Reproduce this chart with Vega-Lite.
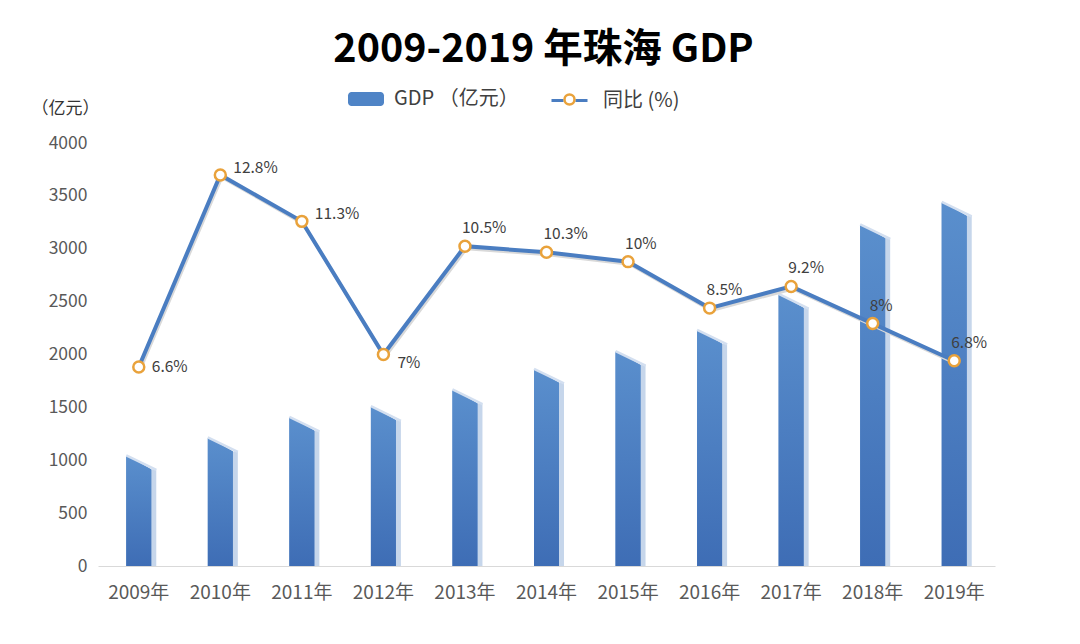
{
  "$schema": "https://vega.github.io/schema/vega-lite/v6.json",
  "autosize": {"type": "none"},
  "width": 897,
  "height": 423,
  "padding": {"left": 98, "top": 143, "right": 85, "bottom": 78},
  "background": "white",
  "config": {
    "view": {"stroke": null},
    "font": "Noto Sans CJK SC",
    "text": {"font": "Noto Sans CJK SC"}
  },
  "title": {
    "text": "2009-2019 年珠海 GDP",
    "fontSize": 39.5,
    "fontWeight": "bold",
    "color": "#000000",
    "font": "Noto Sans CJK SC",
    "anchor": "middle",
    "dx": -3,
    "dy": -7
  },
  "data": {
    "values": [
      {"year": "2009年", "gdp": 1038.7, "rate": 0.066},
      {"year": "2010年", "gdp": 1208.6, "rate": 0.128},
      {"year": "2011年", "gdp": 1403.2, "rate": 0.113},
      {"year": "2012年", "gdp": 1503.8, "rate": 0.07},
      {"year": "2013年", "gdp": 1662.4, "rate": 0.105},
      {"year": "2014年", "gdp": 1857.3, "rate": 0.103},
      {"year": "2015年", "gdp": 2025.4, "rate": 0.10},
      {"year": "2016年", "gdp": 2226.4, "rate": 0.085},
      {"year": "2017年", "gdp": 2564.7, "rate": 0.092},
      {"year": "2018年", "gdp": 3224.0, "rate": 0.08},
      {"year": "2019年", "gdp": 3435.9, "rate": 0.068}
    ]
  },
  "encoding": {
    "x": {
      "field": "year",
      "type": "nominal",
      "sort": null,
      "scale": {"paddingInner": 0, "paddingOuter": 0},
      "axis": {
        "title": null,
        "labelAngle": 0,
        "labelFontSize": 19,
        "labelColor": "#595959",
        "labelPadding": 17,
        "ticks": false,
        "domainColor": "#d9d9d9",
        "domainWidth": 1.2,
        "grid": false
      }
    }
  },
  "layer": [
    {
      "encoding": {
        "y": {
          "field": "gdp",
          "type": "quantitative",
          "stack": null,
          "scale": {"domain": [0, 4000], "nice": false},
          "axis": {
            "values": [0, 500, 1000, 1500, 2000, 2500, 3000, 3500, 4000],
            "format": "d",
            "grid": false,
            "domain": false,
            "ticks": false,
            "labelFontSize": 17.5,
            "labelColor": "#595959",
            "labelPadding": 11,
            "title": "（亿元）",
            "titleAngle": 0,
            "titleAlign": "left",
            "titleBaseline": "middle",
            "titleX": -67,
            "titleY": -35,
            "titleFontSize": 17,
            "titleFontWeight": "normal",
            "titleColor": "#333333"
          }
        }
      },
      "layer": [
        {
          "mark": {"type": "bar", "width": 5, "xOffset": 15, "yOffset": 13, "fill": "#c6d6eb"}
        },
        {
          "mark": {"type": "bar", "width": 25},
          "encoding": {
            "fill": {
              "datum": "GDP （亿元）",
              "scale": {"range": ["#4f84c6"]},
              "legend": {
                "title": null,
                "orient": "none",
                "legendX": 250,
                "legendY": -62,
                "symbolType": "M-0.8,-0.39H0.8A0.2,0.2 0 0 1 1,-0.19V0.19A0.2,0.2 0 0 1 0.8,0.39H-0.8A0.2,0.2 0 0 1 -1,0.19V-0.19A0.2,0.2 0 0 1 -0.8,-0.39Z",
                "symbolSize": 1296,
                "symbolStrokeWidth": 0,
                "labelFontSize": 20,
                "labelColor": "#404040",
                "labelOffset": 10,
                "labelFont": "Noto Sans CJK SC"
              }
            }
          }
        },
        {
          "mark": {
            "type": "bar",
            "width": 25,
            "fill": {
              "gradient": "linear",
              "x1": 0, "y1": 0, "x2": 0, "y2": 1,
              "stops": [
                {"offset": 0, "color": "#5a8fcd"},
                {"offset": 1, "color": "#3e6db5"}
              ]
            }
          }
        },
        {
          "mark": {
            "type": "point",
            "shape": "M-13,-1.5L13.5,-1.5L13.5,13.5Z",
            "size": 4,
            "filled": true,
            "fill": "white",
            "strokeWidth": 0,
            "opacity": 1
          }
        },
        {
          "mark": {
            "type": "point",
            "shape": "M-12.5,-0.8L17.5,13.8",
            "size": 4,
            "filled": false,
            "stroke": "#d3dff0",
            "strokeWidth": 2.5,
            "opacity": 1
          }
        }
      ]
    },
    {
      "encoding": {
        "y": {
          "field": "rate",
          "type": "quantitative",
          "scale": {"domain": [0.00175, 0.1383], "nice": false, "zero": false},
          "axis": null
        }
      },
      "layer": [
        {
          "mark": {"type": "line", "stroke": "#d9d9d9", "strokeWidth": 3, "xOffset": 1.5, "yOffset": 2.5}
        },
        {
          "mark": {"type": "line", "strokeWidth": 4},
          "encoding": {
            "stroke": {
              "datum": "同比 (%)",
              "scale": {"range": ["#4a7dc1"]},
              "legend": {
                "title": null,
                "orient": "none",
                "legendX": 452,
                "legendY": -62,
                "symbolType": "M-1,0H-0.33M0.33,0H1",
                "symbolSize": 1296,
                "symbolStrokeWidth": 3,
                "labelFontSize": 20,
                "labelColor": "#404040",
                "labelOffset": 14,
                "labelFont": "Noto Sans CJK SC"
              }
            }
          }
        },
        {
          "mark": {
            "type": "point",
            "filled": true,
            "fill": "white",
            "strokeWidth": 2.5,
            "size": 120,
            "opacity": 1
          },
          "encoding": {
            "stroke": {
              "datum": " ",
              "scale": {"range": ["#e9a23b"]},
              "legend": {
                "title": null,
                "orient": "none",
                "legendX": 465,
                "legendY": -50,
                "symbolType": "circle",
                "symbolSize": 100,
                "symbolStrokeWidth": 2.5,
                "symbolFillColor": "white",
                "labelExpr": "''"
              }
            }
          }
        },
        {
          "transform": [{"filter": "datum.year == '2009年'"}],
          "mark": {"type": "text", "align": "left", "baseline": "middle", "dx": 13, "dy": 0, "fontSize": 15.5, "color": "#404040"},
          "encoding": {"text": {"field": "rate", "type": "quantitative", "format": ".3~%"}}
        },
        {
          "transform": [{"filter": "datum.year == '2010年' || datum.year == '2011年'"}],
          "mark": {"type": "text", "align": "left", "baseline": "middle", "dx": 13, "dy": -7, "fontSize": 15.5, "color": "#404040"},
          "encoding": {"text": {"field": "rate", "type": "quantitative", "format": ".3~%"}}
        },
        {
          "transform": [{"filter": "datum.year == '2012年'"}],
          "mark": {"type": "text", "align": "left", "baseline": "middle", "dx": 14, "dy": 8, "fontSize": 15.5, "color": "#404040"},
          "encoding": {"text": {"field": "rate", "type": "quantitative", "format": ".3~%"}}
        },
        {
          "transform": [{"filter": "datum.year >= '2013年'"}],
          "mark": {"type": "text", "align": "left", "baseline": "middle", "dx": -3, "dy": -18, "fontSize": 15.5, "color": "#404040"},
          "encoding": {"text": {"field": "rate", "type": "quantitative", "format": ".3~%"}}
        }
      ],
      "resolve": {"scale": {"stroke": "independent"}}
    }
  ],
  "resolve": {"scale": {"y": "independent", "fill": "independent", "stroke": "independent"}}
}
